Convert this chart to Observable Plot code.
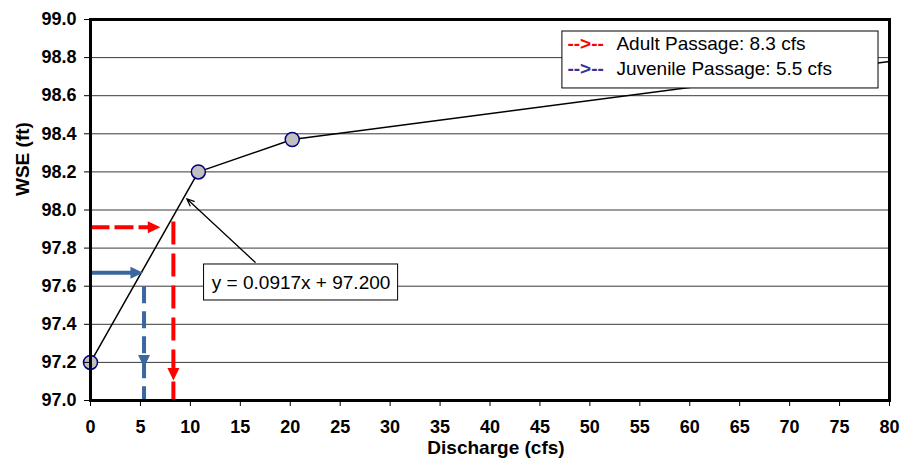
<!DOCTYPE html>
<html><head><meta charset="utf-8">
<script src="https://cdn.jsdelivr.net/npm/d3@7"></script>
<script src="https://cdn.jsdelivr.net/npm/@observablehq/plot@0.6"></script>
<style>
body{margin:0;background:#fff}
#chart{width:901px;height:463px}
</style>
</head><body><div id="chart"></div>
<script>
// ---- data ----
const discharge = [0, 10.8, 20.2, 80];
const wse = [97.2, 98.2, 98.37, 98.78];
const measured = [true, true, true, false];
const xTicks = [0, 5, 10, 15, 20, 25, 30, 35, 40, 45, 50, 55, 60, 65, 70, 75, 80];
const yTicks = [97.0, 97.2, 97.4, 97.6, 97.8, 98.0, 98.2, 98.4, 98.6, 98.8, 99.0];
const xLabel = "Discharge (cfs)";
const yLabel = "WSE (ft)";
const passageNames = ["Adult Passage", "Juvenile Passage"];
const passageFlows = ["8.3", "5.5"];
const passageLevel = [97.91, 97.67];     // WSE read across to the curve
const passageHTip = [7.0, 5.26];         // end of horizontal arrow (cfs)
const passageVX = [8.3, 5.36];           // discharge read down
const passageVTop = [97.94, 97.60];
const passageVTip = [97.105, 97.173];
const equationText = "y = 0.0917x + 97.200";
const eqBox = {x1: 11.37, x2: 30.8, y1: 97.525, y2: 97.714};
const eqArrow = {x1: 16.48, y1: 97.726, x2: 9.64, y2: 98.059};
const legendBox = {x1: 47.25, x2: 78.9, y1: 98.638, y2: 98.937};
const legendRowY = [98.872, 98.743];
const legendMarkX = 47.75;
const legendTextX = 52.66;

// ---- layout ----
const W = 901, H = 463, ML = 90, MR = 12, MT = 19, MB = 63;
const xDomain = [0, 80], yDomain = [97, 99];
const kx = (W - ML - MR) / (xDomain[1] - xDomain[0]);
const ky = (H - MT - MB) / (yDomain[1] - yDomain[0]);

const curve = discharge.map((d, i) => ({q: d, w: wse[i], m: measured[i]}));
const passages = passageNames.map((n, i) => ({
  name: n, flow: passageFlows[i], level: passageLevel[i], htip: passageHTip[i],
  vx: passageVX[i], vtop: passageVTop[i], vtip: passageVTip[i], i
}));
const adult = passages.filter(d => d.i === 0);
const juvenile = passages.filter(d => d.i === 1);
const red = "#ff0000", blue = "#3a67a0";
const legendCols = ["#ff0000", "#333399"];

const headR = 6;
const triRight = {draw(ctx, size) { const r = Math.sqrt(size / Math.PI); ctx.moveTo(0, 0); ctx.lineTo(-2.1 * r, -r); ctx.lineTo(-2.1 * r, r); ctx.closePath(); }};
const triDown = {draw(ctx, size) { const r = Math.sqrt(size / Math.PI); ctx.moveTo(0, 0); ctx.lineTo(-r, -2.1 * r); ctx.lineTo(r, -2.1 * r); ctx.closePath(); }};
const headLenX = 2.1 * headR / kx;

const font = "'Liberation Sans', Arial, sans-serif";

function arrowMarks(data, color, hDash, vDash) {
  return [
    Plot.link(data, {x1: 0, x2: d => d.htip - headLenX + 0.2, y1: "level", y2: "level",
      stroke: color, strokeWidth: 4, strokeDasharray: hDash}),
    Plot.dot(data, {x: "htip", y: "level", symbol: triRight, r: headR, fill: color, stroke: "none"}),
    Plot.link(data, {x1: "vx", x2: "vx", y1: "vtop", y2: yDomain[0],
      stroke: color, strokeWidth: 4, strokeDasharray: vDash}),
    Plot.dot(data, {x: "vx", y: "vtip", symbol: triDown, r: headR, fill: color, stroke: "none"})
  ];
}

const marks = [
  Plot.gridY(yTicks.slice(1, -1), {stroke: "#3a3a3a", strokeOpacity: 1, strokeWidth: 1}),
  Plot.line(curve, {x: "q", y: "w", stroke: "black", strokeWidth: 1.5}),
  Plot.dot(curve.filter(d => d.m), {x: "q", y: "w", r: 7, fill: "#c0c0c0", stroke: "#000080", strokeWidth: 1.5}),
  ...arrowMarks(adult, red, "19,5", "23,9"),
  ...arrowMarks(juvenile, blue, null, "17,8"),
  // equation callout
  Plot.arrow([eqArrow], {x1: "x1", y1: "y1", x2: "x2", y2: "y2", stroke: "black", strokeWidth: 1.3, headLength: 9, headAngle: 45}),
  Plot.rect([eqBox], {x1: "x1", x2: "x2", y1: "y1", y2: "y2", fill: "white", stroke: "black", strokeWidth: 1}),
  Plot.text([equationText], {x: (eqBox.x1 + eqBox.x2) / 2, y: (eqBox.y1 + eqBox.y2) / 2, text: d => d,
    fontSize: 19, fill: "black", fontFamily: font}),
  // legend
  Plot.rect([legendBox], {x1: "x1", x2: "x2", y1: "y1", y2: "y2", fill: "white", stroke: "black", strokeWidth: 1}),
  Plot.text(adult, {x: legendMarkX, y: legendRowY[0], text: () => "-->--", textAnchor: "start",
    fill: legendCols[0], fontSize: 19, fontWeight: "bold", fontFamily: font}),
  Plot.text(juvenile, {x: legendMarkX, y: legendRowY[1], text: () => "-->--", textAnchor: "start",
    fill: legendCols[1], fontSize: 19, fontWeight: "bold", fontFamily: font}),
  Plot.text(passages, {x: legendTextX, y: d => legendRowY[d.i], text: d => `${d.name}: ${d.flow} cfs`, textAnchor: "start",
    fill: "black", fontSize: 19, fontFamily: font}),
  Plot.frame({stroke: "black", strokeWidth: 3}),
  Plot.axisX({ticks: xTicks, tickSize: 6, tickPadding: 14, fontSize: 18, fontWeight: "bold", label: null, tickFormat: d => String(d)}),
  Plot.axisY({ticks: yTicks, tickSize: 6, tickPadding: 8, fontSize: 18, fontWeight: "bold", label: null, tickFormat: d => d.toFixed(1)}),
  Plot.text([xLabel], {frameAnchor: "bottom", dy: 53, dx: 6, text: d => d, fontSize: 19, fontWeight: "bold", fill: "black"}),
  Plot.text([yLabel], {frameAnchor: "left", dx: -68, dy: -14, rotate: -90, text: d => d, fontSize: 19, fontWeight: "bold", fill: "black"})
];

const chart = Plot.plot({
  width: W, height: H,
  marginLeft: ML, marginRight: MR, marginTop: MT, marginBottom: MB,
  style: {fontFamily: font, background: "white", color: "black", overflow: "visible"},
  x: {domain: xDomain, axis: null},
  y: {domain: yDomain, axis: null},
  marks
});
document.getElementById("chart").appendChild(chart);
</script>
</body></html>
